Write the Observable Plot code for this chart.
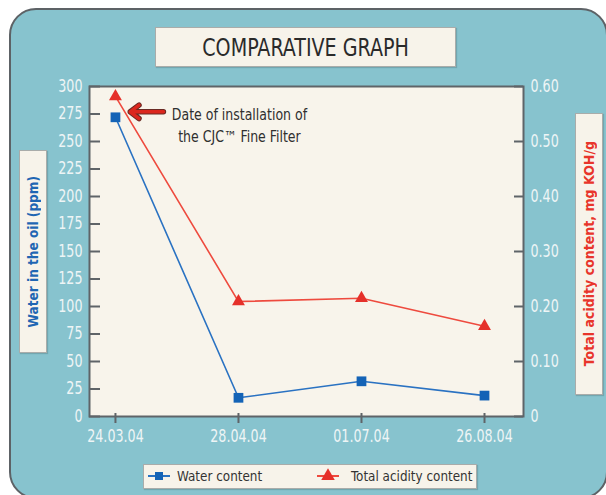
<!DOCTYPE html>
<html>
<head>
<meta charset="utf-8">
<script src="https://cdn.jsdelivr.net/npm/d3@7"></script>
<script src="https://cdn.jsdelivr.net/npm/@observablehq/plot@0.6"></script>
<style>
  html, body { margin: 0; padding: 0; background: #ffffff; }
  #wrap { position: relative; width: 606px; height: 495px; overflow: hidden;
          font-family: "DejaVu Sans Condensed", "Liberation Sans Narrow", "Roboto", sans-serif; }
  #panel { position: absolute; left: 9px; top: 8px; width: 599px; height: 491px;
           box-sizing: border-box; border: 2px solid #5d6266; border-radius: 27px;
           background: #87c3ce; }
  #chart { position: absolute; left: 0; top: 0; }
  .box { position: absolute; background: #f7f3ea; border: 1px solid #a9acaa;
         box-shadow: 1px 1px 1px rgba(0,0,0,0.15); box-sizing: border-box; }
  #title { left: 155px; top: 27px; width: 301px; height: 40px; display: flex;
           align-items: center; justify-content: center; color: #2a2a2a; }
  #title span { display: inline-block; font-size: 25px; transform: scaleX(0.85); white-space: nowrap; }
  .vlabel { display: flex; align-items: center; justify-content: center; }
  .vlabel span { writing-mode: vertical-rl; transform: rotate(180deg); font-weight: bold; font-size: 13.5px; white-space: nowrap; }
  #ylab { left: 19px; top: 150px; width: 28px; height: 203px; color: #1f66b3; }
  #y2lab { left: 575px; top: 113px; width: 28px; height: 282px; color: #e8352b; }
  #y2lab span { font-size: 14px; }
  #legend { left: 143px; top: 464px; width: 334px; height: 25px; color: #333; }
  #legend svg { position: absolute; top: 3px; }
  #legend span { position: absolute; top: 3px; font-size: 14.5px; line-height: 17px; transform: scaleX(0.92); transform-origin: left center; white-space: nowrap; }
</style>
</head>
<body>
<div id="wrap">
  <div id="panel"></div>
  <div id="chart"></div>
  <div id="title" class="box"><span>COMPARATIVE GRAPH</span></div>
  <div id="ylab" class="box vlabel"><span>Water in the oil (ppm)</span></div>
  <div id="y2lab" class="box vlabel"><span>Total acidity content, mg KOH/g</span></div>
  <div id="legend" class="box"></div>
</div>
<script>
// ---- data ----
const dates = ["24.03.04", "28.04.04", "01.07.04", "26.08.04"];
const waterPpm = [272, 17, 32, 19];
const acidity = [0.582, 0.209, 0.215, 0.164];
const waterTicks = [0, 25, 50, 75, 100, 125, 150, 175, 200, 225, 250, 275, 300];
const acidTicks = [0, 0.1, 0.2, 0.3, 0.4, 0.5, 0.6];
const seriesNames = ["Water content", "Total acidity content"];
const noteText = "Date of installation of\nthe CJC™ Fine Filter";

// acidity axis (0–0.60) shares the water axis (0–300)
const ACID_SCALE = 300 / 0.6;

const rows = dates.map((d, i) => ({ i, date: d, water: waterPpm[i], acid: acidity[i] * ACID_SCALE }));
const note = [{ x1: 0.39, x2: 0.12, y: 277, tx: 1.008, ty: 266, text: noteText }];

const blue = "#2a72c2", blueFill = "#1463b6";
const red = "#ee4a3e", redFill = "#e5302a";
const tickCol = "#5f6468", labelCol = "#eef5f6";
const innerW = 606 - 89 - 83, innerH = 495 - 86 - 79;

const plot = Plot.plot({
  width: 606, height: 495,
  marginLeft: 89, marginRight: 83, marginTop: 86, marginBottom: 79,
  style: { background: "transparent", fontFamily: "'DejaVu Sans Condensed', sans-serif", fontSize: "17px", overflow: "visible" },
  x: { type: "linear", domain: [-0.211, 3.317], axis: null },
  y: { domain: [0, 300], axis: null },
  marks: [
    Plot.frame({ fill: "#f8f4eb", stroke: tickCol, strokeWidth: 2 }),
    // inward ticks
    Plot.tickY(waterTicks, { y: d => d, insetRight: innerW - 11, stroke: tickCol, strokeWidth: 2 }),
    Plot.tickY(acidTicks.map(v => v * ACID_SCALE), { y: d => d, insetLeft: innerW - 9, stroke: tickCol, strokeWidth: 2 }),
    Plot.tickX(rows, { x: "i", insetTop: innerH - 10, dy: 7, stroke: tickCol, strokeWidth: 2 }),
    // tick labels
    Plot.axisY({ ticks: waterTicks, tickSize: 0, tickPadding: 7, fill: labelCol, label: null }),
    Plot.axisY({ anchor: "right", ticks: acidTicks.map(v => v * ACID_SCALE), tickFormat: d => d === 0 ? "0" : (d / ACID_SCALE).toFixed(2),
                 tickSize: 0, tickPadding: 7, fill: labelCol, label: null }),
    Plot.axisX({ ticks: rows.map(r => r.i), tickFormat: i => dates[i], tickSize: 0, tickPadding: 13,
                 fill: labelCol, label: null }),
    Plot.line(rows, { x: "i", y: "acid", stroke: red, strokeWidth: 1.6 }),
    Plot.line(rows, { x: "i", y: "water", stroke: blue, strokeWidth: 1.6 }),
    Plot.dot(rows, { x: "i", y: "acid", symbol: "triangle", r: 4.8, fill: redFill, stroke: "none" }),
    Plot.dot(rows, { x: "i", y: "water", symbol: "square", r: 5.5, fill: blueFill, stroke: "none" }),
    Plot.arrow(note, { x1: "x1", y1: "y", x2: "x2", y2: "y", stroke: "#6a2a24", strokeWidth: 5.5, headLength: 11, headAngle: 75 }),
    Plot.arrow(note, { x1: "x1", y1: "y", x2: "x2", y2: "y", stroke: "#dc261d", strokeWidth: 3.5, headLength: 10, headAngle: 75 }),
    Plot.text(note, { x: "tx", y: "ty", text: "text", textAnchor: "middle", lineAnchor: "middle", lineHeight: 1.45,
                      fill: "#2f2f2f", fontSize: 15 })
  ]
});
document.getElementById("chart").appendChild(plot);

// condensed look: squeeze each text horizontally around its own anchor point
plot.querySelectorAll("text").forEach(el => {
  const isNote = el.textContent.includes("Date");
  const k = isNote ? 0.93 : 0.83;
  let t = el.getAttribute("transform");
  if (!t) {
    const x = +(el.getAttribute("x") || 0), y = +(el.getAttribute("y") || 0);
    el.setAttribute("x", 0); el.setAttribute("y", 0);
    t = `translate(${x},${y})`;
  }
  el.setAttribute("transform", `${t} scale(${k},1)`);
});

// legend
const legend = document.getElementById("legend");
const items = [
  { name: seriesNames[0], mx: 4, tx: 33, color: blue, fill: blueFill, sym: d3.symbolSquare, size: 64 },
  { name: seriesNames[1], mx: 173, tx: 207, color: red, fill: redFill, sym: d3.symbolTriangle, size: 80 }
];
for (const it of items) {
  const s = d3.create("svg").attr("width", 22).attr("height", 16).style("left", it.mx + "px");
  s.append("line").attr("x1", 0).attr("x2", 22).attr("y1", 8).attr("y2", 8).attr("stroke", it.color).attr("stroke-width", 2);
  s.append("path").attr("transform", "translate(11,8)").attr("d", d3.symbol(it.sym, it.size)()).attr("fill", it.fill);
  legend.appendChild(s.node());
  const t = document.createElement("span");
  t.textContent = it.name;
  t.style.left = it.tx + "px";
  legend.appendChild(t);
}
</script>
</body>
</html>
